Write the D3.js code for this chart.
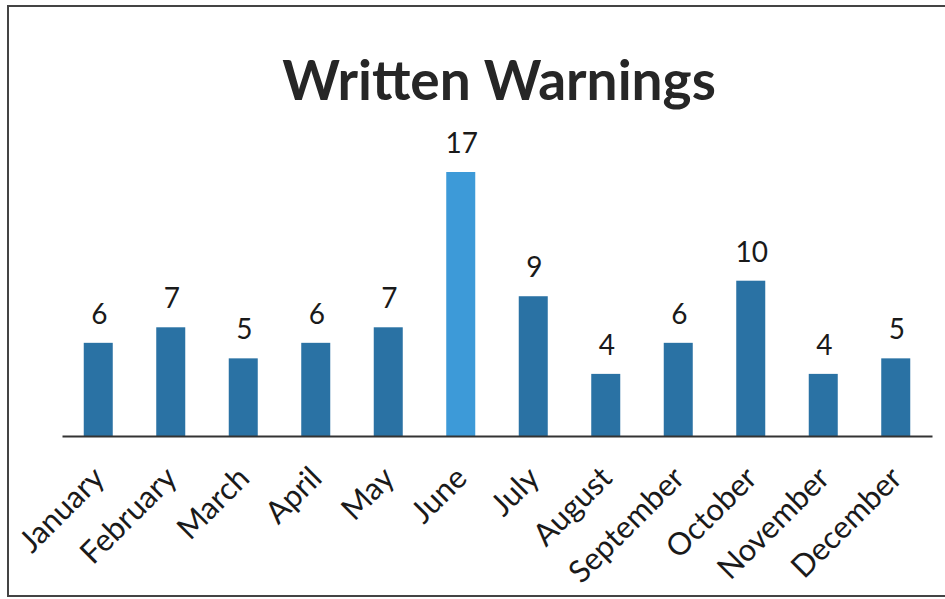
<!DOCTYPE html>
<html><head><meta charset="utf-8">
<script src="https://cdn.jsdelivr.net/npm/d3@7"></script>
<style>body{margin:0;background:#fff}svg{display:block}</style>
</head><body>
<svg id="c" width="945" height="599"></svg>
<script>
const months = ["January","February","March","April","May","June","July","August","September","October","November","December"];
const warnings = [6,7,5,6,7,17,9,4,6,10,4,5];
const highlight = ["June"];
const title = "Written Warnings";

const svg = d3.select("#c");
const font = "Lato, 'Open Sans', sans-serif";
const baseY = 436;

// frame
svg.append("rect").attr("x",8).attr("y",6).attr("width",950).attr("height",590)
  .attr("fill","none").attr("stroke","#444").attr("stroke-width",2);

const x = d3.scaleBand().domain(months).range([62,932]).paddingInner(0.6).paddingOuter(0.3);
const y = d3.scaleLinear().domain([0,17]).range([baseY,172]);

svg.append("text").attr("x",499).attr("y",100).attr("text-anchor","middle")
  .attr("font-family",font).attr("font-weight",700).attr("font-size",55)
  .attr("fill","#262626").text(title);

svg.selectAll("rect.bar").data(months).join("rect").attr("class","bar")
  .attr("x",d=>x(d)).attr("width",x.bandwidth())
  .attr("y",(d,i)=>y(warnings[i])).attr("height",(d,i)=>baseY-y(warnings[i]))
  .attr("fill",d=>highlight.includes(d)?"#3d9ad8":"#2a72a4");

svg.selectAll("text.val").data(months).join("text").attr("class","val")
  .attr("x",d=>x(d)+x.bandwidth()/2+1).attr("y",(d,i)=>y(warnings[i])-19)
  .attr("text-anchor","middle").attr("font-family",font).attr("font-size",28)
  .attr("fill","#1a1a1a").text((d,i)=>warnings[i]);

const axis = d3.axisBottom(x).tickSize(0).tickPadding(0);
const g = svg.append("g").attr("transform",`translate(0,${baseY})`).call(axis);
g.select(".domain").attr("stroke","#333").attr("stroke-width",2);
g.selectAll(".tick text").attr("font-family",font).attr("font-size",31).attr("fill","#1a1a1a")
  .attr("text-anchor","end").attr("dy",null).attr("y",0)
  .attr("transform","translate(8,44) rotate(-45)");
</script>
</body></html>
